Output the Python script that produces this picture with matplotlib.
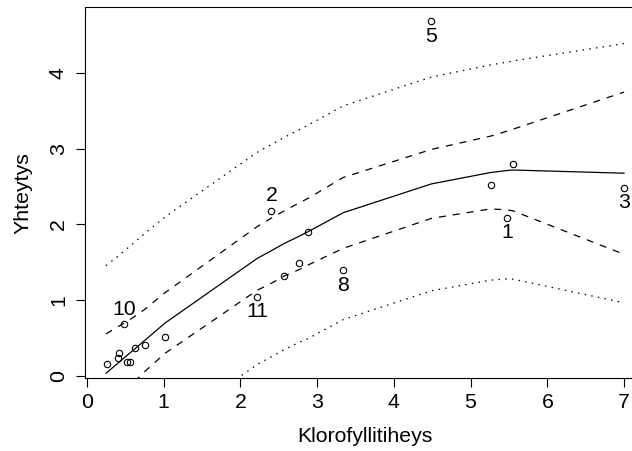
import matplotlib
matplotlib.use("Agg")
import matplotlib.pyplot as plt

# observations (index order = observation number)
obs_x = [5.48, 2.406, 7.0, 0.26, 4.49, 0.425, 0.412, 3.341, 0.521, 0.49, 2.217,
         0.56, 0.625, 0.756, 1.016, 2.574, 2.768, 2.884, 5.26, 5.557]
obs_y = [2.09, 2.174, 2.486, 0.154, 4.68, 0.31, 0.233, 1.40, 0.185, 0.68, 1.047,
         0.185, 0.365, 0.41, 0.52, 1.324, 1.49, 1.905, 2.52, 2.80]
obs_label = ['1', '2', '3', '', '5', '', '', '8', '', '10', '11',
             '', '', '', '', '', '', '', '', '']
label_above = ['2', '10']

# fitted curve and bands, at the sorted x values
grid_x = [0.25, 0.41, 0.425, 0.48, 0.52, 0.56, 0.62, 0.75, 1.02, 2.217, 2.406,
          2.574, 2.768, 2.884, 3.341, 4.49, 5.26, 5.48, 5.557, 7.0]
fit_y = [0.036, 0.174, 0.187, 0.234, 0.268, 0.303, 0.354, 0.466, 0.70, 1.55, 1.655,
         1.75, 1.845, 1.905, 2.155, 2.535, 2.685, 2.712, 2.718, 2.676]
ci_hi = [0.556, 0.654, 0.662, 0.694, 0.718, 0.743, 0.784, 0.876, 1.10, 1.97, 2.085,
         2.18, 2.285, 2.345, 2.62, 2.99, 3.165, 3.232, 3.258, 3.746]
ci_lo = [-0.484, -0.306, -0.288, -0.226, -0.182, -0.137, -0.076, 0.056, 0.30, 1.13, 1.225,
         1.32, 1.405, 1.465, 1.685, 2.08, 2.205, 2.192, 2.178, 1.606]
pi_hi = [1.456, 1.584, 1.597, 1.644, 1.678, 1.713, 1.764, 1.876, 2.10, 2.95, 3.055,
         3.15, 3.25, 3.31, 3.565, 3.945, 4.105, 4.142, 4.158, 4.386]
pi_lo = [-1.384, -1.236, -1.223, -1.176, -1.142, -1.107, -1.056, -0.944, -0.70, 0.15, 0.255,
         0.35, 0.445, 0.495, 0.745, 1.125, 1.265, 1.282, 1.278, 0.966]

x_ticks = [0, 1, 2, 3, 4, 5, 6, 7]
y_ticks = [0, 1, 2, 3, 4]
x_title = "Klorofyllitiheys"
y_title = "Yhteytys"

plt.rcParams['font.family'] = ['Liberation Sans', 'DejaVu Sans']
FS = 15.3

fig = plt.figure(figsize=(6.32, 4.51), dpi=100)
W, H = 632, 451
left, right, top, bottom = 85.3, 644.8, 7.3, 378.3
ax = fig.add_axes([left / W, (H - bottom) / H, (right - left) / W, (bottom - top) / H])
ax.set_xlim(-0.02, 7.27)
ax.set_ylim(-0.03, 4.865)

lw = 0.9
ax.plot(grid_x, fit_y, color='black', lw=lw, solid_joinstyle='miter')
for band in (ci_hi, ci_lo):
    ax.plot(grid_x, band, color='black', lw=lw, linestyle=(0, (5.6, 5.6)))
for band in (pi_hi, pi_lo):
    ax.plot(grid_x, band, color='black', lw=lw, linestyle=(0, (1.2, 4.2)))

ax.plot(obs_x, obs_y, linestyle='none', marker='o', markersize=4.6,
        markerfacecolor='none', markeredgecolor='black', markeredgewidth=0.8)

for x, y, lab in zip(obs_x, obs_y, obs_label):
    if not lab:
        continue
    dy = 11 if lab in label_above else -11
    ax.annotate(lab, (x, y), xytext=(0, dy), textcoords='offset points',
                ha='center', va='center', fontsize=FS)

for s in ax.spines.values():
    s.set_linewidth(0.8)
ax.set_xticks(x_ticks)
ax.set_yticks(y_ticks)
ax.set_xticklabels([str(t) for t in x_ticks])
ax.set_yticklabels([str(t) for t in y_ticks], rotation=90, va='center')
ax.tick_params(axis='both', direction='out', length=6.5, width=0.8, labelsize=FS)
ax.tick_params(axis='x', pad=4)
ax.tick_params(axis='y', pad=6)
ax.set_xlabel(x_title, fontsize=FS, labelpad=11)
ax.set_ylabel(y_title, fontsize=FS, labelpad=12)

fig.savefig("out.png", dpi=100)
